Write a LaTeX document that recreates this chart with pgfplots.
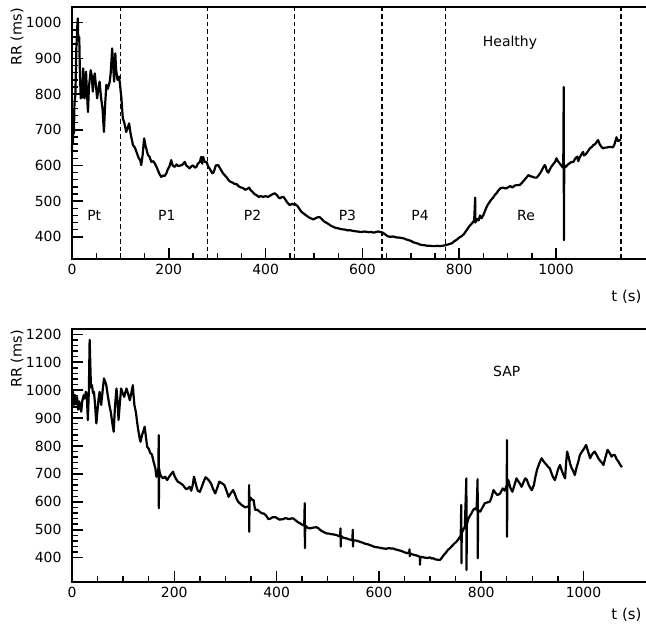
\documentclass[border=0pt]{standalone}
\usepackage{pgfplots}
\pgfplotsset{compat=1.18}
\usepackage{fontspec}
\setmainfont{DejaVu Sans}

\tikzset{
  sig/.style={black, line width=2.2bp, line join=round},
  sep/.style={black, line width=1.5bp, dash pattern=on 4.5bp off 3bp},
  lab/.style={font=\fontsize{14}{16}\selectfont},
}
\pgfplotsset{
  rrstyle/.style={
    scale only axis,
    anchor=south west,
    xmin=0, xmax=1200,
    xtick={0,200,400,600,800,1000},
    minor x tick num=3,
    minor y tick num=4,
    xtick pos=left, ytick pos=left,
    tick align=inside,
    major tick length=11bp,
    minor tick length=6bp,
    major tick style={black, line width=1.5bp},
    minor tick style={black, line width=1.4bp},
    axis line style={line width=1.8bp},
    /pgf/number format/assume math mode=true,
    /pgf/number format/set thousands separator={},
    tick label style={font=\fontsize{14}{16}\selectfont},
    xticklabel style={yshift=-2bp},
    yticklabel style={xshift=-7bp},
    clip=false,
  },
}

\begin{document}
\begin{tikzpicture}
\useasboundingbox (0,0) rectangle (646bp,628bp);

% ---------------- Top panel: Healthy ----------------
\begin{axis}[rrstyle,
  at={(72bp,369bp)}, width=580.8bp, height=252bp,
  ymin=338, ymax=1044,
  ytick={400,500,600,700,800,900,1000},
]
\addplot[sep] coordinates {(100,338) (100,1044)};
\addplot[sep] coordinates {(280,338) (280,1044)};
\addplot[sep] coordinates {(460,338) (460,1044)};
\addplot[sep] coordinates {(640,338) (640,1044)};
\addplot[sep] coordinates {(772,338) (772,1044)};
\addplot[sep] coordinates {(1134,338) (1134,1044)};
\addplot[sig] coordinates {
(0,640) (1,720) (2,660) (3,750) (4,690) (5,770) (7,800) (9,930) (11,990) (12,1012)
(13,950) (15,960) (16,880) (18,788) (20,800) (21,790) (23,872) (25,820) (26,788) (28,830)
(29,863) (31,800) (33,750) (35,820) (38.6,867) (41,850) (43,807) (45,840) (47,858) (49,830)
(52,788) (54,810) (57,835) (60,790) (63,760) (66,694) (68,760) (71,826) (74,815) (78,835)
(80,860) (83,928) (85,880) (87,835) (89.5,914) (91,870) (94,840) (97,849) (99,830) (100.6,807)
(102,790) (105,732) (108,720) (112,694) (115,705) (118,718) (121,690) (126,657) (130,650) (134,635)
(138,620) (141,615) (143,601) (146,630) (149,676) (152,655) (157,629) (160,625) (164,610) (168,612)
(171,606) (175,595) (178,585) (181,575) (184.5,568) (188,572) (191,570) (195,578) (198,590) (201,596)
(205,615) (208,600) (212,596) (216,603) (220,598) (224,600) (228,602) (233,610) (236,600) (240,596)
(243,592) (247,598) (250,600) (254,594) (257,596) (260,605) (264,610) (267,624) (269,605) (271,624)
(274,610) (278,610) (281,598) (285,590) (290,578) (293,582) (297,600) (302,601) (306,592) (309,585)
(312,578) (316,572) (320,566) (324,558) (328,554) (332,552) (336,548) (340,548) (345,541) (350,538)
(354,536) (358,532) (362,534) (366,538) (369,531) (373,526) (377,520) (382,516) (386,512) (390,514)
(395,512) (400,514) (405,512) (410,516) (415,520) (419,522) (424,516) (427,510) (430,508) (434,512)
(437,512) (441,504) (445,496) (450,489) (455,493) (458,490) (461,492) (466,486) (470,478) (474,470)
(478,466) (482,462) (486,458) (490,454) (495,451) (499,449) (503,452) (508,455) (512,455) (516,450)
(520,444) (525,440) (530,436) (535,431) (540,428) (545,425) (550,424) (555,422) (560,421) (565,420)
(570,418) (574,419) (579,417) (584,416) (590,415) (595,414) (600,414) (604,415) (609,414) (614,413)
(618,414) (622,412) (627,413) (632,415) (636,414) (640,413) (644,410) (648,406) (652,402) (657,400)
(662,401) (667,400) (671,398) (676,398) (680,397) (685,396) (690,393) (695,391) (700,389) (705,385)
(710,383) (715,381) (720,378) (725,377) (730,376) (735,375) (740,375) (745,374) (750,374) (755,375)
(760,374) (765,375) (770,376) (775,378) (780,380) (785,382) (790,388) (795,392) (800,398) (805,402)
(810,408) (815,418) (820,428) (825,436) (829,442) (831,448) (833,510) (833.3,440) (837,450) (840,446)
(843,460) (846,452) (850,461) (854,475) (858,488) (862,496) (866,504) (870,510) (874,518) (877,522)
(881,530) (885,536) (890,538) (894,536) (898,536) (902,540) (906,542) (910,538) (915,544) (920,545)
(925,545) (930,552) (935,560) (940,568) (943,573) (947,570) (952,568) (956,566) (960,566) (964,572)
(968,580) (972,590) (975,598) (977,601) (979,595) (981,585) (984,580) (987,588) (990,596) (994,603)
(998,610) (1001,620) (1004,612) (1008,605) (1012,598) (1015,593) (1016,820) (1016.3,391) (1017,600) (1020,596)
(1024,602) (1028,606) (1032,610) (1036,610) (1040,620) (1044,625) (1046,612) (1048,620) (1052,630) (1056,638)
(1058,628) (1062,632) (1066,640) (1070,648) (1074,652) (1077,657) (1081,660) (1084,666) (1087,671) (1090,660)
(1094,652) (1097,648) (1101,650) (1105,650) (1109,652) (1113,652) (1118,651) (1121,660) (1125,679) (1128,668)
(1131,670) (1134,673)
};
\node[lab] at (axis cs:905,943) {Healthy};
\node[lab] at (axis cs:46,461) {Pt};
\node[lab] at (axis cs:196,461) {P1};
\node[lab] at (axis cs:373,461) {P2};
\node[lab] at (axis cs:569,461) {P3};
\node[lab] at (axis cs:719,461) {P4};
\node[lab] at (axis cs:938,461) {Re};
\end{axis}

% ---------------- Bottom panel: SAP ----------------
\begin{axis}[rrstyle,
  at={(72bp,46.3bp)}, width=613.8bp, height=252.7bp,
  ymin=314, ymax=1219,
  ytick={400,500,600,700,800,900,1000,1100,1200},
]
\addplot[sig] coordinates {
(0,980) (2,994) (4,947) (6,982) (8,950) (10,975) (12,930) (14,960) (16,945) (18,923)
(20,960) (23,982) (25,970) (27,994) (29,980) (31,893) (33,1000) (34.5,1180) (36,1080) (37,1010)
(39,1018) (41,990) (43,994) (45,950) (47.6,881) (50,930) (52,970) (54,994) (57,947) (60,1000)
(62.6,1042) (65,1030) (67,1018) (70,980) (73,947) (76,920) (79,880) (81.5,851) (84,940) (87,1006)
(89,960) (91,893) (93,940) (96,1006) (99,990) (102,976) (104,990) (106.5,1006) (110,985) (113,964)
(116,990) (119,1018) (120,990) (122,947) (125,920) (127,890) (129,863) (132,830) (134,815) (137,840)
(140,855) (142,869) (144,840) (147,797) (150,790) (153,775) (156,770) (158,756) (160,740) (163,720)
(165,690) (167,700) (169,720) (169.5,839) (169.8,577) (170.2,720) (172,700) (175,690) (178,684) (182,690)
(186,678) (190,690) (194,700) (197.5,708) (201,690) (204,680) (207,672) (211,668) (214,664) (217,660)
(221,650) (224,645) (228,650) (230,654) (233,640) (236,660) (238.5,690) (241,672) (244,650) (246,640)
(250,636) (254,655) (258,675) (261,688) (264,684) (268,676) (272,665) (276,645) (280,630) (284,650)
(288,672) (292,668) (295,664) (298,660) (302,640) (306,618) (310,630) (315,642) (318,630) (322,610)
(325,600) (328,595) (332,588) (335,585) (338,580) (342,582) (346,585) (346.3,660) (346.6,493) (347,600)
(349,615) (352,608) (355,606) (358,571) (362,572) (366,566) (371,559) (375,558) (379,552) (384,538)
(388,540) (392,545) (398,545) (402,540) (406,536) (410,538) (413,538) (417,542) (421,540) (425,538)
(429.5,541) (433,540) (437,534) (441,528) (446,523) (450,518) (454,515) (455,595) (455.3,434) (456,515)
(460,508) (464,505) (468,506) (472,508) (478,509) (482,505) (486,498) (490,494) (494,490) (498,487)
(503,486) (508,484) (512,483) (517.5,481) (521,478) (524,476) (525,505) (525.3,440) (526,478) (530,472)
(534,470) (537,469) (541,466) (545,464) (548,462) (549,500) (549.3,440) (550,462) (554,462) (558,460)
(563,457) (568,454) (573,450) (578,448) (583,445) (588,441) (593,438) (598,437) (603,435) (609,433)
(614,432) (619,434) (624,433) (628,433) (632,430) (636,428) (640,426) (644,424) (648,421) (652,418)
(656,416) (659,420) (660,430) (660.3,405) (661,415) (665,412) (669,410) (673,408) (677,406) (680,403)
(680.3,375) (681,403) (685,402) (690,400) (695,399) (700,401) (703,397) (706,398) (710,394) (714,393)
(718,392) (719.5,392) (723,400) (727,410) (731,418) (735,428) (739,434) (743,442) (747,450) (751,456)
(755,465) (758.5,475) (760,480) (761,589) (761.3,380) (762,488) (765,500) (768,511) (771,684) (771.3,356)
(772,520) (775,540) (778,550) (781,559) (784,570) (788,577) (791,572) (793,681) (793.3,398) (794,570)
(798,565) (802,578) (807,595) (812,598) (817,601) (820,615) (824,642) (828,632) (832,624) (837,630)
(842,648) (846,640) (850,660) (850.3,821) (850.6,475) (851,660) (853,678) (857,650) (861,636) (865,660)
(869,684) (872,675) (876,664) (879,654) (883,672) (886,684) (889,680) (893,660) (896,650) (899,642)
(903,660) (906,690) (909,714) (913,735) (918,756) (922,745) (925,738) (928,732) (931,725) (934,720)
(937,705) (940,690) (944,678) (947,695) (950,715) (954,732) (957,715) (960,700) (964,684) (966,740)
(968,780) (971,760) (974,735) (977,720) (980,710) (983,696) (986,720) (990,745) (993,768) (997,780)
(1001,790) (1005,804) (1009,780) (1013,756) (1016,768) (1019,775) (1022,780) (1025,770) (1029,756) (1032,748)
(1036,740) (1039,732) (1043,760) (1047,786) (1051,775) (1055,762) (1058,768) (1061,768) (1065,752) (1068,745)
(1071,735) (1075,724)
};
\node[lab] at (axis cs:850,1066) {SAP};
\end{axis}

% axis titles
\node[anchor=east, font=\fontsize{15}{17}\selectfont] at (645bp,331bp) {t (s)};
\node[anchor=east, font=\fontsize{15}{17}\selectfont] at (645bp,13bp) {t (s)};
\node[rotate=90, font=\fontsize{14.5}{16}\selectfont] at (17bp,591bp) {RR (ms)};
\node[rotate=90, font=\fontsize{14.5}{16}\selectfont] at (17bp,269bp) {RR (ms)};
\end{tikzpicture}
\end{document}
